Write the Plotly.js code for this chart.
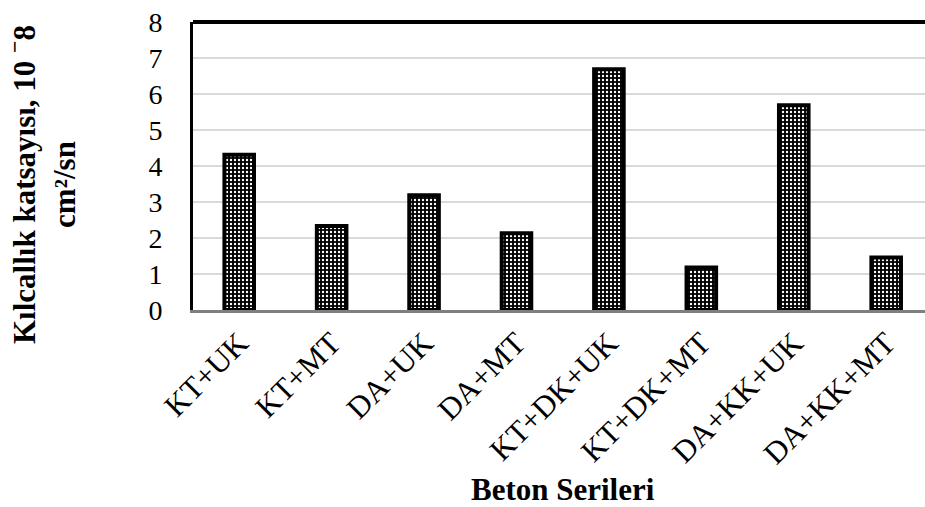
<!DOCTYPE html>
<html>
<head>
<meta charset="utf-8">
<script src="https://cdn.plot.ly/plotly-3.0.1.min.js"></script>
<style>html,body{margin:0;padding:0;background:#fff;}#chart{width:925px;height:507px;}</style>
</head>
<body>
<div id="chart"></div>
<script>
const categories = ["KT+UK", "KT+MT", "DA+UK", "DA+MT", "KT+DK+UK", "KT+DK+MT", "DA+KK+UK", "DA+KK+MT"];
const values = [4.31, 2.33, 3.19, 2.13, 6.69, 1.18, 5.69, 1.46];
const yTicks = [0, 1, 2, 3, 4, 5, 6, 7, 8];
const xTitle = "Beton Serileri";
const yTitle = "Kılcallık katsayısı, 10 <sup>−</sup>8<br>cm²/sn";

const font = "Liberation Serif, Times New Roman, serif";

const trace = {
  type: "bar",
  x: categories,
  y: values,
  marker: {
    color: "black",
    line: {color: "black", width: 4},
    pattern: {shape: ".", fgcolor: "white", bgcolor: "black", size: 4, solidity: 0.28}
  },
  hoverinfo: "skip"
};

const layout = {
  width: 925, height: 507,
  margin: {l: 193, r: 0, t: 22, b: 197},
  paper_bgcolor: "white", plot_bgcolor: "white",
  showlegend: false,
  bargap: 0.68,
  font: {family: font, color: "black"},
  xaxis: {
    type: "category",
    range: [-0.5, 7.42],
    tickangle: -45,
    tickfont: {family: font, size: 31, color: "black"},
    showline: true, linecolor: "#7f7f7f", linewidth: 2.5,
    showgrid: false, ticks: "", zeroline: false,
    ticklabelstandoff: 0
  },
  yaxis: {
    range: [0, 8],
    tickvals: yTicks,
    ticktext: yTicks.map(String),
    tickfont: {family: font, size: 28, color: "black"},
    showline: true, linecolor: "black", linewidth: 3,
    showgrid: true, gridcolor: "#d9d9d9", gridwidth: 2,
    ticks: "", zeroline: false,
    ticklabelstandoff: 22
  },
  shapes: [
    {type: "line", xref: "paper", yref: "paper", x0: 0, x1: 1, y0: 1, y1: 1,
     line: {color: "black", width: 4}}
  ],
  annotations: [
    {text: "<b>" + xTitle + "</b>", xref: "paper", yref: "paper",
     x: (563 - 193) / 732, y: (310 - 489) / 288, xanchor: "center", yanchor: "middle",
     showarrow: false, font: {family: font, size: 31, color: "black"}},
    {text: "<b>" + yTitle + "</b>", xref: "paper", yref: "paper",
     x: (42 - 193) / 732, y: (310 - 185) / 288, xanchor: "center", yanchor: "middle",
     textangle: -90, showarrow: false, font: {family: font, size: 31, color: "black"}}
  ]
};

Plotly.newPlot("chart", [trace], layout, {displayModeBar: false, staticPlot: true});
</script>
</body>
</html>
